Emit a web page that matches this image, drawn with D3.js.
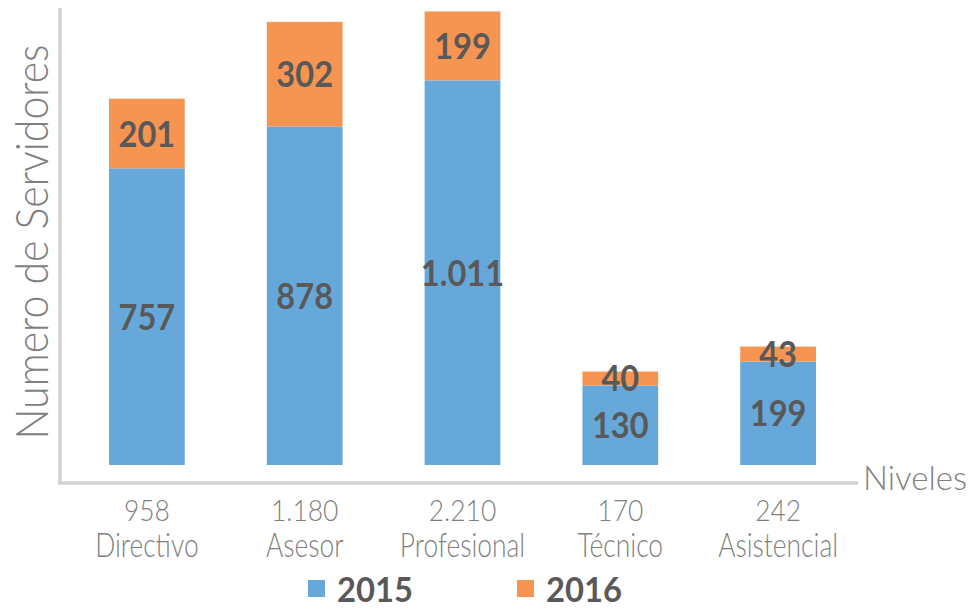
<!DOCTYPE html>
<html>
<head>
<meta charset="utf-8">
<script src="https://cdn.jsdelivr.net/npm/d3@7"></script>
<style>
    body { margin: 0; background: #ffffff; }
    svg { display: block; }
    .light { font-family: Lato, "Open Sans", sans-serif; font-weight: 300; fill: #7f7f7f; }
    .bold { font-family: Lato, "Open Sans", sans-serif; font-weight: 700; fill: #595959; }
</style>
</head>
<body>
<script>

// data
var niveles = ["Directivo", "Asesor", "Profesional", "Técnico", "Asistencial"];
var totales = ["958", "1.180", "2.210", "170", "242"];
var anios = ["2015", "2016"];
var valores2015 = [757, 878, 1011, 130, 199];
var valores2016 = [201, 302, 199, 40, 43];
var colores = ["#67a8db", "#f69452"];

window.onload = function() {
    makeChart();
};

// squeeze a text horizontally, the original uses a narrow font
function condense(selection, factor) {
    selection.each(function() {
        var w = this.getComputedTextLength();
        d3.select(this)
            .attr("textLength", w * factor)
            .attr("lengthAdjust", "spacingAndGlyphs");
    });
}

function makeChart() {
    var totalWidth = 974,
        totalHeight = 609;

    var margin = {"left": 60, "top": 8, "baseline": 465, "axis": 483, "right": 858};

    var svg = d3.select("body").append("svg")
        .attr("width", totalWidth)
        .attr("height", totalHeight);

    // rows for the stack
    var rows = niveles.map(function(d, i) {
        return {"nivel": d, "2015": valores2015[i], "2016": valores2016[i]};
    });
    var stacked = d3.stack().keys(anios)(rows);

    // scales (the original chart does not start its bars at zero)
    var yFloor = -100;
    var x = d3.scaleBand()
        .domain(niveles)
        .range([68, 857])
        .paddingInner(0.52)
        .paddingOuter(0.26);

    var y = d3.scaleLinear()
        .domain([yFloor, 1220])
        .range([margin.baseline, margin.top]);

    var fmt = d3.formatLocale({"decimal": ",", "thousands": ".", "grouping": [3], "currency": ["$", ""]}).format(",d");

    // bars
    var layers = svg.selectAll(".layer")
        .data(stacked).enter()
        .append("g")
        .attr("class", "layer")
        .attr("fill", function(d, i) { return colores[i]; });

    layers.selectAll("rect")
        .data(function(d) { return d; }).enter()
        .append("rect")
        .attr("x", function(d) { return x(d.data.nivel); })
        .attr("width", x.bandwidth())
        .attr("y", function(d) { return y(d[1]); })
        .attr("height", function(d) {
            var base = d[0] === 0 ? yFloor : d[0];
            return y(base) - y(d[1]);
        });

    // value labels inside the segments
    layers.selectAll("text")
        .data(function(d) { return d; }).enter()
        .append("text")
        .attr("class", "bold")
        .attr("text-anchor", "middle")
        .attr("font-size", 37)
        .attr("x", function(d) { return x(d.data.nivel) + x.bandwidth() / 2; })
        .attr("y", function(d) {
            var base = d[0] === 0 ? yFloor : d[0];
            return (y(base) + y(d[1])) / 2 + 13;
        })
        .text(function(d) { return fmt(d[1] - d[0]); })
        .call(condense, 0.88);

    // axis lines
    svg.append("line")
        .attr("x1", margin.left).attr("x2", margin.left)
        .attr("y1", margin.top).attr("y2", margin.axis + 1.5)
        .attr("stroke", "#d3d3d3").attr("stroke-width", 3.5);

    svg.append("line")
        .attr("x1", margin.left - 2).attr("x2", margin.right)
        .attr("y1", margin.axis).attr("y2", margin.axis)
        .attr("stroke", "#d3d3d3").attr("stroke-width", 3.5);

    // category labels: total and name
    var cats = svg.selectAll(".cat")
        .data(niveles).enter()
        .append("g")
        .attr("class", "cat")
        .attr("transform", function(d) { return "translate(" + (x(d) + x.bandwidth() / 2) + ",0)"; });

    cats.append("text")
        .attr("class", "light")
        .attr("text-anchor", "middle")
        .attr("font-size", 30)
        .attr("y", 521)
        .text(function(d, i) { return totales[i]; })
        .call(condense, 0.88);

    cats.append("text")
        .attr("class", "light")
        .attr("text-anchor", "middle")
        .attr("font-size", 33)
        .attr("y", 557)
        .text(function(d) { return d; })
        .call(condense, 0.8);

    // axis titles
    svg.append("text")
        .attr("class", "light")
        .attr("font-size", 33)
        .attr("x", 863)
        .attr("y", 490)
        .attr("textLength", 104)
        .attr("lengthAdjust", "spacingAndGlyphs")
        .text("Niveles");

    svg.append("text")
        .attr("class", "light")
        .attr("text-anchor", "middle")
        .attr("font-size", 45)
        .attr("transform", "translate(48,242) rotate(-90)")
        .attr("textLength", 395)
        .attr("lengthAdjust", "spacingAndGlyphs")
        .text("Numero de Servidores");

    // legend
    var legend = svg.selectAll(".legend")
        .data(anios).enter()
        .append("g")
        .attr("class", "legend")
        .attr("transform", function(d, i) { return "translate(" + (308 + i * 209) + ",580)"; });

    legend.append("rect")
        .attr("width", 17)
        .attr("height", 17)
        .attr("fill", function(d, i) { return colores[i]; });

    legend.append("text")
        .attr("class", "bold")
        .attr("font-size", 35)
        .attr("x", 29)
        .attr("y", 22)
        .attr("textLength", 76)
        .attr("lengthAdjust", "spacingAndGlyphs")
        .text(function(d) { return d; });
}
</script>
</body>
</html>
